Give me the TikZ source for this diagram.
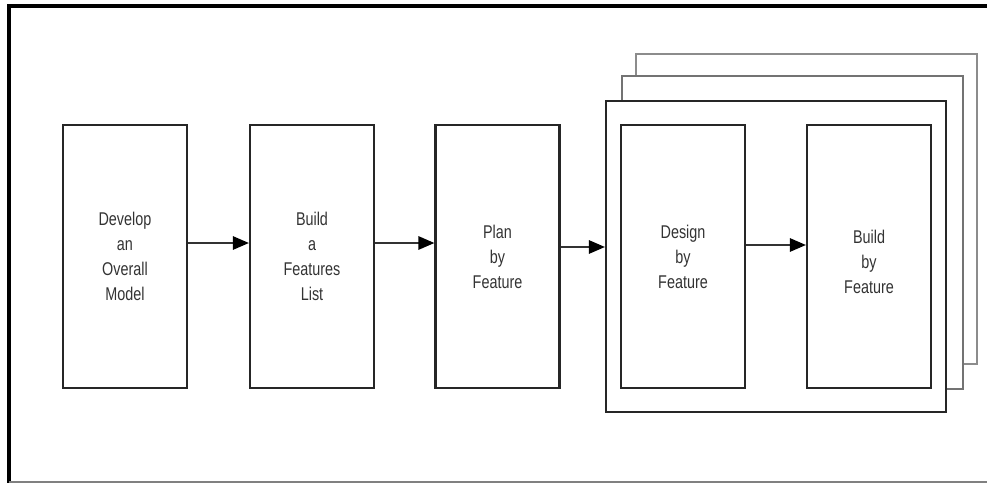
\documentclass[tikz,border=0pt]{standalone}
\usepackage{fontspec}
\setmainfont{Liberation Sans}[FakeStretch=0.78]
\usetikzlibrary{arrows.meta}

\begin{document}
\begin{tikzpicture}[x=0.02cm,y=-0.02cm,
  every node/.style={font=\fontsize{10.5}{14.2}\selectfont},
  stage/.style={draw=black!85,line width=1.3pt,minimum width=2.48cm,
    minimum height=5.26cm,inner sep=0pt,align=center,text=black!80},
  sheet/.style={fill=white,line width=1.3pt},
  flow/.style={draw=black!80,line width=0.8pt,
    -{Triangle[length=0.32cm,width=0.27cm,color=black]}}]
  \useasboundingbox (0,0) rectangle (987,483);
  % page frame
  \draw[line width=2pt] (9,483) -- (9,6) -- (987,6);
  \draw[black!50,line width=0.6pt] (9,482) -- (987,482);
  % stacked iteration sheets
  \draw[sheet,draw=black!45] (636,54) rectangle (977,364);
  \draw[sheet,draw=black!55] (622,76) rectangle (963,389);
  \node[sheet,draw=black!85,minimum width=6.8cm,minimum height=6.22cm,
    inner sep=0pt] (grp) at (776,256.5) {};
  % stages
  \node[stage] (dev) at (125,256.5) {Develop\\an\\Overall\\Model};
  \node[stage] (lst) at (312,256.5) {Build\\a\\Features\\List};
  \node[stage] (pln) at (497.5,256.5) {Plan\\by\\Feature};
  \node[stage] (dsg) at (683,256.5) {Design\\by\\Feature};
  \node[stage] (bld) at (869,256.5) {\mbox{}\\[-0.02cm]Build\\by\\Feature};
  % connectors
  \draw[flow] ([yshift=0.27cm]dev.east) -- ([yshift=0.27cm]lst.west);
  \draw[flow] ([yshift=0.27cm]lst.east) -- ([yshift=0.27cm]pln.west);
  \draw[flow] ([yshift=0.19cm]pln.east) -- ([yshift=0.19cm]grp.west);
  \draw[flow] ([yshift=0.23cm]dsg.east) -- ([yshift=0.23cm]bld.west);
\end{tikzpicture}
\end{document}
